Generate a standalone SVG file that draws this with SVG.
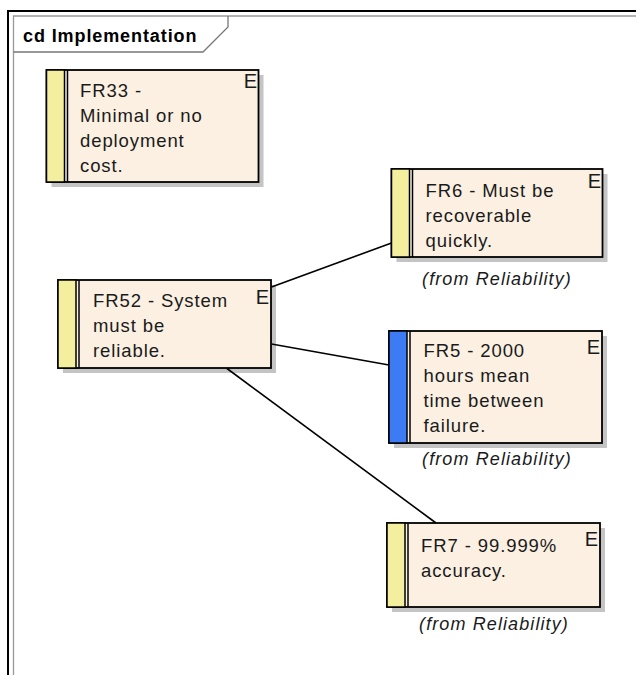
<svg xmlns="http://www.w3.org/2000/svg" width="636" height="675" viewBox="0 0 636 675">
<style>
.box{fill:#FBF0E2;stroke:#000;stroke-width:1.8}
.shadow{fill:#C4C4C4}
.strip{fill:#F4EF9E;stroke:#000;stroke-width:1.5}
.blue{fill:#3D7BF5;stroke:#000;stroke-width:1.5}
.dl{stroke:#000;stroke-width:1.5}
.t{font-family:"Liberation Sans",Arial,sans-serif;font-size:18.5px;letter-spacing:0.9px;fill:#1a1a1a}
.e{font-family:"Liberation Sans",Arial,sans-serif;font-size:20px;fill:#1a1a1a;text-anchor:end}
.from{font-family:"Liberation Sans",Arial,sans-serif;font-size:18px;font-style:italic;letter-spacing:1.1px;fill:#1a1a1a;text-anchor:middle}
.conn{stroke:#000;stroke-width:1.6;fill:none}
</style>
<rect x="0" y="0" width="636" height="675" fill="#fff"/>
<g id="frame">
<path d="M8 675 V11 H636" fill="none" stroke="#000" stroke-width="2"/>
<path d="M13.5 675 V16 H636" fill="none" stroke="#999" stroke-width="1.3"/>
<path d="M13.5 52 H203 L228 27 V16" fill="none" stroke="#777" stroke-width="1.3"/>
<text x="23" y="42" font-family="'Liberation Sans',Arial,sans-serif" font-size="18" font-weight="bold" letter-spacing="0.9" fill="#000">cd Implementation</text>
</g>
<g id="FR33">
<rect class="shadow" x="51.5" y="75" width="212" height="112"/>
<rect class="box" x="46.5" y="70" width="212" height="112"/>
<rect class="strip" x="46.5" y="70" width="18" height="112"/>
<line class="dl" x1="67.5" y1="70" x2="67.5" y2="182"/>
<text class="e" x="257" y="88">E</text>
<text class="t" x="80" y="97">FR33 -</text>
<text class="t" x="80" y="122">Minimal or no</text>
<text class="t" x="80" y="147">deployment</text>
<text class="t" x="80" y="172">cost.</text>
</g>
<g id="FR6">
<rect class="shadow" x="396.5" y="174" width="211" height="88"/>
<rect class="box" x="391.5" y="169" width="211" height="88"/>
<rect class="strip" x="391.5" y="169" width="18" height="88"/>
<line class="dl" x1="412.5" y1="169" x2="412.5" y2="257"/>
<text class="e" x="601" y="188">E</text>
<text class="t" x="425.5" y="197">FR6 - Must be</text>
<text class="t" x="425.5" y="222">recoverable</text>
<text class="t" x="425.5" y="247">quickly.</text>
<text class="from" x="497" y="285">(from Reliability)</text>
</g>
<g id="FR52">
<rect class="shadow" x="63" y="285" width="213" height="88"/>
<rect class="box" x="58" y="280" width="213" height="88"/>
<rect class="strip" x="58" y="280" width="18" height="88"/>
<line class="dl" x1="79" y1="280" x2="79" y2="368"/>
<text class="e" x="269" y="304">E</text>
<text class="t" x="93" y="307">FR52 - System</text>
<text class="t" x="93" y="332">must be</text>
<text class="t" x="93" y="357">reliable.</text>
</g>
<g id="FR5">
<rect class="shadow" x="394" y="336" width="213" height="112"/>
<rect class="box" x="389" y="331" width="213" height="112"/>
<rect class="blue" x="389" y="331" width="18" height="112"/>
<line class="dl" x1="410" y1="331" x2="410" y2="443"/>
<text class="e" x="600" y="354">E</text>
<text class="t" x="423.5" y="357">FR5 - 2000</text>
<text class="t" x="423.5" y="382">hours mean</text>
<text class="t" x="423.5" y="407">time between</text>
<text class="t" x="423.5" y="432">failure.</text>
<text class="from" x="497" y="465">(from Reliability)</text>
</g>
<g id="FR7">
<rect class="shadow" x="392" y="528" width="213" height="84"/>
<rect class="box" x="387" y="523" width="213" height="84"/>
<rect class="strip" x="387" y="523" width="18" height="84"/>
<line class="dl" x1="408" y1="523" x2="408" y2="607"/>
<text class="e" x="598" y="546">E</text>
<text class="t" x="421" y="552">FR7 - 99.999%</text>
<text class="t" x="421" y="577">accuracy.</text>
<text class="from" x="494" y="630">(from Reliability)</text>
</g>
<g id="connectors">
<line class="conn" x1="271.5" y1="287" x2="391.5" y2="243"/>
<line class="conn" x1="271.5" y1="344" x2="389" y2="365"/>
<line class="conn" x1="227" y1="368.5" x2="436" y2="523"/>
</g>
</svg>
